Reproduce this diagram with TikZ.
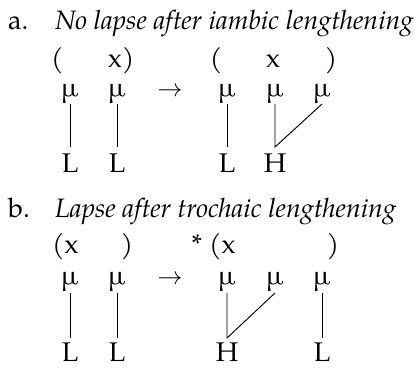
\documentclass[tikz,border=0pt]{standalone}
\usepackage{fontspec}
\setmainfont{texgyrepagella}[Extension=.otf, UprightFont=*-regular, ItalicFont=*-italic, BoldFont=*-bold, BoldItalicFont=*-bolditalic]
\begin{document}
\begin{tikzpicture}[x=1pt,y=-1pt,
  every node/.style={inner sep=0pt, anchor=base, font=\fontsize{27}{32}\selectfont},
  lbl/.style={anchor=base west},
  ttl/.style={anchor=base west, font=\fontsize{26.6}{32}\selectfont\itshape},
  arr/.style={font=\fontsize{29}{32}\selectfont},
  assoc/.style={line width=0.95pt}]
\useasboundingbox (0,0) rectangle (416,369);
% ---------- a ----------
\node[lbl] (la) at (8,30) {a.};
\node[ttl] (ta) at (55,30) {No lapse after iambic lengthening};
\node[lbl] (pa1) at (51,68) {(};
\node[lbl] (xa1) at (108,68) {x)};
\node (pa2) at (216,68) {(};
\node (xa2) at (273,68) {x};
\node (qa2) at (331,68) {)};
\node (ma1) at (70,97) {µ};
\node (ma2) at (117,97) {µ};
\node[arr] (ara) at (170,97) {$\rightarrow$};
\node (ma3) at (227,97) {µ};
\node (ma4) at (275,97) {µ};
\node (ma5) at (322,97) {µ};
\node (La1) at (70,173) {L};
\node (La2) at (117,173) {L};
\node (La3) at (227,173) {L};
\node (Ha4) at (275,173) {H};
\draw[assoc] ([yshift=-7pt]ma1.base) -- ([yshift=26pt]La1.base);
\draw[assoc] ([yshift=-7pt]ma2.base) -- ([yshift=26pt]La2.base);
\draw[assoc] ([yshift=-7pt]ma3.base) -- ([yshift=26pt]La3.base);
\draw[assoc] ([yshift=-7pt]ma4.base) -- ([yshift=26pt]Ha4.base) -- ([yshift=-7pt]ma5.base);
% ---------- b ----------
\node[lbl] (lb) at (8,218) {b.};
\node[ttl] (tb) at (55,218) {Lapse after trochaic lengthening};
\node[lbl] (xb1) at (52,254) {(x};
\node (qb1) at (127,254) {)};
\node (sb) at (197,254) {*};
\node[lbl] (xb2) at (209,254) {(x};
\node (qb2) at (333,254) {)};
\node (mb1) at (70,285) {µ};
\node (mb2) at (117,285) {µ};
\node[arr] (arb) at (170,285) {$\rightarrow$};
\node (mb3) at (227,285) {µ};
\node (mb4) at (275,285) {µ};
\node (mb5) at (322,285) {µ};
\node (Lb1) at (70,362) {L};
\node (Lb2) at (117,362) {L};
\node (Hb3) at (227,362) {H};
\node (Lb5) at (322,362) {L};
\draw[assoc] ([yshift=-8pt]mb1.base) -- ([yshift=24pt]Lb1.base);
\draw[assoc] ([yshift=-8pt]mb2.base) -- ([yshift=24pt]Lb2.base);
\draw[assoc] ([yshift=-8pt]mb3.base) -- ([yshift=24pt]Hb3.base) -- ([yshift=-8pt]mb4.base);
\draw[assoc] ([yshift=-8pt]mb5.base) -- ([yshift=24pt]Lb5.base);
\end{tikzpicture}
\end{document}
